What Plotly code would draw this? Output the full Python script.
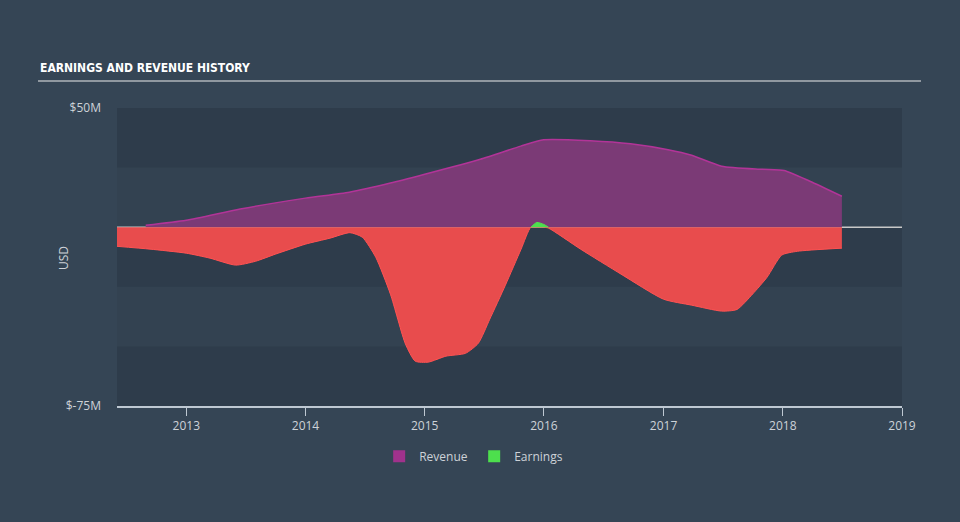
import numpy as np
import plotly.graph_objects as go

# Revenue (USD millions)
rev_dates = ["2012-08-30", "2013-01-01", "2013-06-15", "2014-01-01", "2014-05-15",
             "2014-09-18", "2015-01-01", "2015-06-20", "2015-10-22", "2015-12-31",
             "2016-05-22", "2016-09-22", "2017-01-15", "2017-03-28", "2017-06-28",
             "2017-10-30", "2018-01-05", "2018-03-25", "2018-07-01"]
rev_values = [0.8, 2.9, 7.6, 12.2, 14.7, 18.5, 22.2, 28.5, 34.0, 36.7,
              36.3, 35.0, 32.5, 30.2, 25.6, 24.3, 23.8, 19.3, 13.0]

# Earnings (USD millions)
earn_dates = ["2012-06-01", "2012-09-12", "2013-01-01", "2013-03-15", "2013-06-01",
              "2013-08-01", "2013-10-01", "2014-01-01", "2014-03-17", "2014-05-17",
              "2014-06-24", "2014-08-04", "2014-09-18", "2014-11-03", "2014-12-03",
              "2015-01-12", "2015-03-07", "2015-05-06", "2015-06-14", "2015-07-19",
              "2015-09-05", "2015-10-23", "2015-11-22", "2015-12-10", "2015-12-31",
              "2016-01-15", "2016-04-22", "2016-08-24", "2017-01-01", "2017-03-28",
              "2017-06-28", "2017-08-14", "2017-10-01", "2017-11-14", "2017-12-29",
              "2018-02-15", "2018-07-01"]
earn_values = [-8.0, -9.2, -10.9, -13.0, -15.9, -14.3, -11.3, -7.1, -4.6, -2.3,
               -4.2, -12.6, -28.1, -49.0, -56.2, -56.6, -54.1, -52.9, -48.7, -38.6,
               -24.3, -9.2, 0.0, 2.0, 1.2, -0.4, -9.2, -19.7, -30.2, -32.7,
               -35.2, -34.5, -28.0, -21.0, -11.7, -10.1, -8.8]

x_ticks = ["2013-01-01", "2014-01-01", "2015-01-01", "2016-01-01", "2017-01-01",
           "2018-01-01", "2019-01-01"]
x_labels = ["2013", "2014", "2015", "2016", "2017", "2018", "2019"]
y_ticks = [50, -75]
y_labels = ["$50M", "$-75M"]

e = np.array(earn_values)
neg = np.minimum(e, 0)
pos_idx = np.where(e > 0)[0]
lo, hi = pos_idx.min() - 1, pos_idx.max() + 1
pos_dates = earn_dates[lo:hi + 1]
pos_vals = np.maximum(e[lo:hi + 1], 0)

BG = "rgb(53,69,85)"
BAND = "rgb(46,60,75)"
TXT = "rgb(205,210,216)"
REV_LEG = "rgb(160,50,140)"
EARN_LEG = "rgb(77,223,77)"

fig = go.Figure()

fig.add_trace(go.Scatter(
    x=rev_dates, y=rev_values, mode="lines", name="Revenue",
    line=dict(color="rgb(178,52,152)", width=1.5, shape="spline", smoothing=0.6),
    fill="tozeroy", fillcolor="rgb(123,58,118)", showlegend=False,
))
fig.add_trace(go.Scatter(
    x=earn_dates, y=neg, mode="lines", name="Earnings neg",
    line=dict(color="rgb(255,82,82)", width=1, shape="spline", smoothing=0.6),
    fill="tozeroy", fillcolor="rgb(232,76,77)", showlegend=False,
))
fig.add_trace(go.Scatter(
    x=pos_dates, y=pos_vals, mode="lines", name="Earnings",
    line=dict(color="rgb(80,224,80)", width=1, shape="spline", smoothing=0.6),
    fill="tozeroy", fillcolor="rgb(77,223,77)", showlegend=False,
))
# legend entries (squares)
fig.add_trace(go.Bar(x=[None], y=[None], name="Revenue",
                     marker=dict(color=REV_LEG, line=dict(width=0)), showlegend=True))
fig.add_trace(go.Bar(x=[None], y=[None], name="Earnings",
                     marker=dict(color=EARN_LEG, line=dict(width=0)), showlegend=True))

shapes = []
for y0, y1 in [(25, 50), (-25, 0), (-75, -50)]:
    shapes.append(dict(type="rect", xref="paper", yref="y", x0=0, x1=1, y0=y0, y1=y1,
                       fillcolor=BAND, line=dict(width=0), layer="below"))
shapes.append(dict(type="line", xref="paper", yref="y", x0=0, x1=1, y0=0, y1=0,
                   line=dict(color="rgb(200,200,200)", width=1.5), layer="below"))
# title underline
shapes.append(dict(type="line", xref="paper", yref="paper",
                   x0=(38 - 117) / 785, x1=(921 - 117) / 785,
                   y0=1 + (108 - 81) / 298, y1=1 + (108 - 81) / 298,
                   line=dict(color="rgb(175,180,186)", width=1.5)))

fig.update_layout(
    width=960, height=522,
    paper_bgcolor=BG, plot_bgcolor="rgb(51,66,81)",
    margin=dict(l=117, r=58, t=108, b=116),
    font=dict(family="Open Sans", color=TXT, size=12),
    shapes=shapes,
    showlegend=True,
    legend=dict(orientation="h", x=0.455, xanchor="center", y=-0.12, yanchor="top",
                font=dict(size=12, color=TXT), bgcolor="rgba(0,0,0,0)",
                itemsizing="constant", entrywidth=50, entrywidthmode="pixels"),
    annotations=[
        dict(text="<b>EARNINGS AND REVENUE HISTORY</b>", xref="paper", yref="paper",
             x=(38 - 117) / 785, y=1 + (108 - 68) / 298, xanchor="left",
             yanchor="middle", showarrow=False,
             font=dict(family="DejaVu Sans Condensed, Roboto, sans-serif", size=12,
                       color="white")),
        dict(text="USD", xref="paper", yref="paper", x=(63 - 117) / 785,
             y=(406 - 258) / 298, xanchor="center", yanchor="middle", textangle=-90,
             showarrow=False, font=dict(size=12, color=TXT)),
    ],
    xaxis=dict(type="date", range=["2012-06-03", "2019-01-01"], tickvals=x_ticks,
               ticktext=x_labels, showgrid=False, zeroline=False, showline=True,
               linecolor="rgb(190,200,210)", linewidth=1.5, ticks="outside",
               ticklen=8, tickcolor="rgb(190,200,210)",
               tickfont=dict(size=12, color=TXT)),
    yaxis=dict(range=[-75, 50], tickvals=y_ticks, ticktext=y_labels, showgrid=False,
               zeroline=False, showline=False, ticks="", ticklabelstandoff=15,
               tickfont=dict(size=12, color=TXT)),
    barmode="overlay",
)

fig.write_html("out.html", config={"displayModeBar": False},
               post_script="document.body.style.margin='0';")
